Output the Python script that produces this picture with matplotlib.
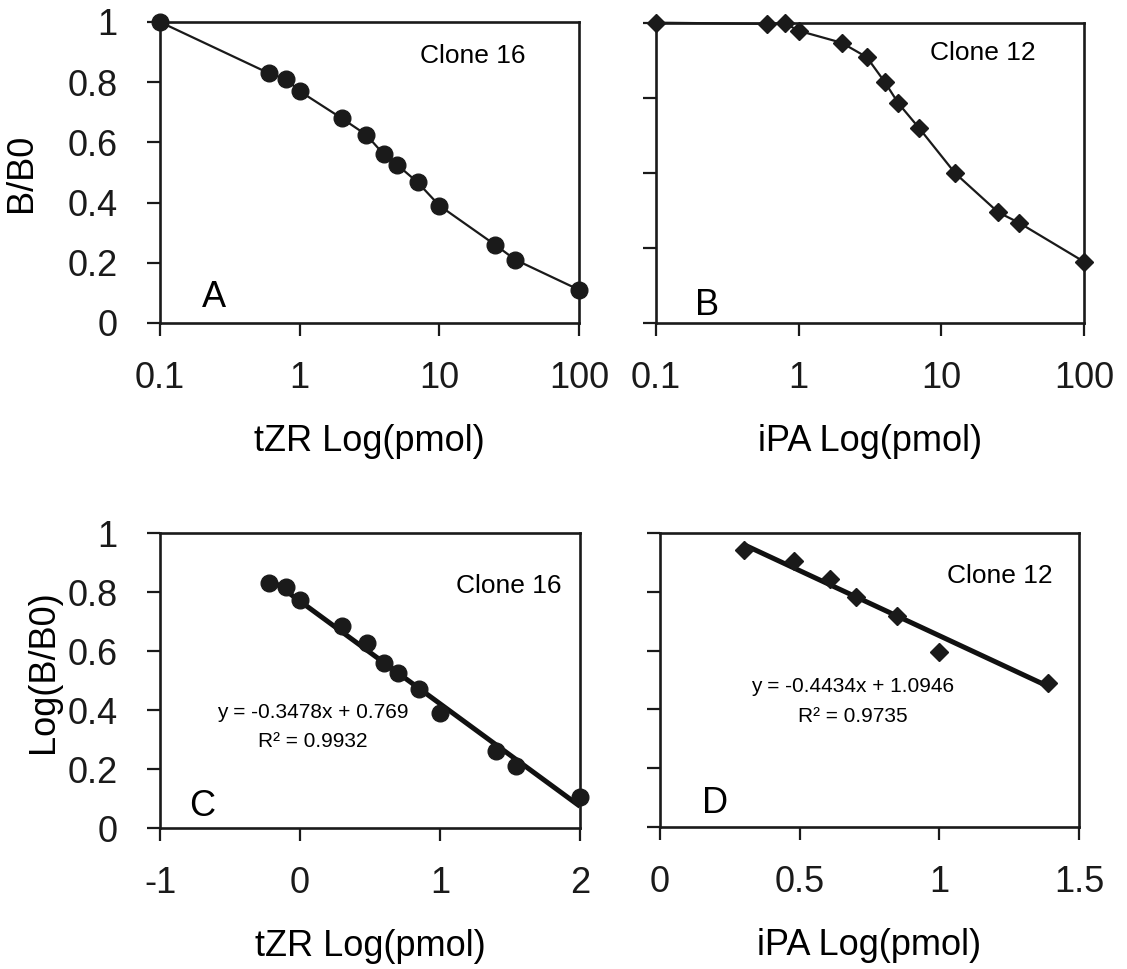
import numpy as np
import matplotlib
matplotlib.use("Agg")
import matplotlib.pyplot as plt

plt.rcParams["font.family"] = ["Liberation Sans", "DejaVu Sans"]

# %%
# Data

# panel A: tZR, clone 16
tzr_conc = [0.1, 0.6, 0.8, 1, 2, 3, 4, 5, 7, 10, 25, 35, 100]
tzr_bb0 = [1.0, 0.83, 0.81, 0.77, 0.68, 0.625, 0.56, 0.525, 0.467, 0.39, 0.26, 0.21, 0.11]

# panel B: iPA, clone 12
ipa_conc = [0.1, 0.6, 0.8, 1, 2, 3, 4, 5, 7, 12.5, 25, 35, 100]
ipa_bb0 = [1.0, 0.996, 0.998, 0.973, 0.933, 0.885, 0.803, 0.731, 0.648, 0.498, 0.368, 0.333, 0.203]

# panel C: linearised tZR
tzr_log = [-0.22, -0.1, 0.0, 0.3, 0.48, 0.6, 0.7, 0.85, 1.0, 1.4, 1.54, 2.0]
tzr_log_bb0 = [0.83, 0.818, 0.773, 0.686, 0.628, 0.56, 0.526, 0.47, 0.39, 0.261, 0.21, 0.106]
tzr_slope, tzr_icept, tzr_r2 = -0.3478, 0.769, 0.9932

# panel D: linearised iPA
ipa_log = [0.30, 0.48, 0.61, 0.70, 0.85, 1.0, 1.39]
ipa_log_bb0 = [0.943, 0.907, 0.845, 0.784, 0.718, 0.597, 0.491]
ipa_slope, ipa_icept, ipa_r2 = -0.4434, 1.0946, 0.9735

log_ticks = [0.1, 1, 10, 100]
log_ticklabels = ["0.1", "1", "10", "100"]
frac_ticks = [0, 0.2, 0.4, 0.6, 0.8, 1]
frac_ticklabels = ["0", "0.2", "0.4", "0.6", "0.8", "1"]

# %%
big_fs = 26
clone_fs = 19
eq_fs = 15
spine_w = 1.9


def style_axes(ax):
    for s in ax.spines.values():
        s.set_linewidth(spine_w)
        s.set_color("#1a1a1a")
    ax.tick_params(axis="both", direction="out", length=9.5, width=1.6,
                   colors="#1a1a1a", labelsize=big_fs)
    ax.tick_params(axis="x", pad=18)
    ax.tick_params(axis="y", pad=21)
    ax.minorticks_off()


fig = plt.figure(figsize=(11.27, 9.69), dpi=100)

ax_a = fig.add_axes([0.142, 0.6667, 0.3718, 0.3106])
ax_b = fig.add_axes([0.5821, 0.667, 0.3798, 0.3096])
ax_c = fig.add_axes([0.142, 0.1455, 0.3727, 0.3044])
ax_d = fig.add_axes([0.5856, 0.1468, 0.3718, 0.3028])

# %%
# A
ax_a.plot(tzr_conc, tzr_bb0, color="#1a1a1a", lw=1.6, marker="o", ms=12,
          mfc="#1a1a1a", mec="#1a1a1a", clip_on=False, zorder=3)
ax_a.set_xscale("log")
ax_a.set_xlim(0.1, 100)
ax_a.set_ylim(0, 1)
ax_a.set_xticks(log_ticks)
ax_a.set_xticklabels(log_ticklabels)
ax_a.set_yticks(frac_ticks)
ax_a.set_yticklabels(frac_ticklabels)
style_axes(ax_a)
ax_a.minorticks_off()
ax_a.set_xlabel("tZR Log(pmol)", fontsize=big_fs, labelpad=20)
ax_a.set_ylabel("B/B0", fontsize=big_fs)
ax_a.yaxis.set_label_coords(-0.29, 0.5)
ax_a.text(0.62, 0.863, "Clone 16", transform=ax_a.transAxes, fontsize=clone_fs,
          ha="left", va="baseline")
ax_a.text(0.10, 0.053, "A", transform=ax_a.transAxes, fontsize=big_fs,
          ha="left", va="baseline")

# B
ax_b.plot(ipa_conc, ipa_bb0, color="#1a1a1a", lw=1.6, marker="D", ms=9,
          mfc="#1a1a1a", mec="#1a1a1a", clip_on=False, zorder=3)
ax_b.set_xscale("log")
ax_b.set_xlim(0.1, 100)
ax_b.set_ylim(0, 1)
ax_b.set_xticks(log_ticks)
ax_b.set_xticklabels(log_ticklabels)
ax_b.set_yticks([0, 0.25, 0.5, 0.75, 1])
ax_b.set_yticklabels([])
style_axes(ax_b)
ax_b.minorticks_off()
ax_b.set_xlabel("iPA Log(pmol)", fontsize=big_fs, labelpad=20)
ax_b.text(0.64, 0.876, "Clone 12", transform=ax_b.transAxes, fontsize=clone_fs,
          ha="left", va="baseline")
ax_b.text(0.091, 0.026, "B", transform=ax_b.transAxes, fontsize=big_fs,
          ha="left", va="baseline")

# C
xfit_c = np.array([min(tzr_log), max(tzr_log)])
ax_c.plot(xfit_c, tzr_slope * xfit_c + tzr_icept, color="#111111", lw=3.6,
          solid_capstyle="butt", zorder=2)
ax_c.plot(tzr_log, tzr_log_bb0, ls="none", marker="o", ms=12,
          mfc="#1a1a1a", mec="#1a1a1a", clip_on=False, zorder=3)
ax_c.set_xlim(-1, 2)
ax_c.set_ylim(0, 1)
ax_c.set_xticks([-1, 0, 1, 2])
ax_c.set_xticklabels(["-1", "0", "1", "2"])
ax_c.set_yticks(frac_ticks)
ax_c.set_yticklabels(frac_ticklabels)
style_axes(ax_c)
ax_c.set_xlabel("tZR Log(pmol)", fontsize=big_fs, labelpad=20)
ax_c.set_ylabel("Log(B/B0)", fontsize=big_fs)
ax_c.yaxis.set_label_coords(-0.235, 0.53)
ax_c.text(0.705, 0.796, "Clone 16", transform=ax_c.transAxes, fontsize=clone_fs,
          ha="left", va="baseline")
ax_c.text(0.364, 0.372, f"y = {tzr_slope}x + {tzr_icept}", transform=ax_c.transAxes,
          fontsize=eq_fs, ha="center", va="baseline")
ax_c.text(0.364, 0.274, f"R² = {tzr_r2}", transform=ax_c.transAxes,
          fontsize=eq_fs, ha="center", va="baseline")
ax_c.text(0.07, 0.041, "C", transform=ax_c.transAxes, fontsize=big_fs,
          ha="left", va="baseline")

# D
xfit_d = np.array([min(ipa_log), max(ipa_log)])
ax_d.plot(xfit_d, ipa_slope * xfit_d + ipa_icept, color="#111111", lw=3.6,
          solid_capstyle="butt", zorder=2)
ax_d.plot(ipa_log, ipa_log_bb0, ls="none", marker="D", ms=9,
          mfc="#1a1a1a", mec="#1a1a1a", clip_on=False, zorder=3)
ax_d.set_xlim(0, 1.5)
ax_d.set_ylim(0, 1)
ax_d.set_xticks([0, 0.5, 1, 1.5])
ax_d.set_xticklabels(["0", "0.5", "1", "1.5"])
ax_d.set_yticks(frac_ticks)
ax_d.set_yticklabels([])
style_axes(ax_d)
ax_d.set_xlabel("iPA Log(pmol)", fontsize=big_fs, labelpad=20)
ax_d.text(0.684, 0.83, "Clone 12", transform=ax_d.transAxes, fontsize=clone_fs,
          ha="left", va="baseline")
ax_d.text(0.46, 0.46, f"y = {ipa_slope}x + {ipa_icept}", transform=ax_d.transAxes,
          fontsize=eq_fs, ha="center", va="baseline")
ax_d.text(0.46, 0.358, f"R² = {ipa_r2}", transform=ax_d.transAxes,
          fontsize=eq_fs, ha="center", va="baseline")
ax_d.text(0.0995, 0.048, "D", transform=ax_d.transAxes, fontsize=big_fs,
          ha="left", va="baseline")

fig.savefig("out.png", dpi=100)
